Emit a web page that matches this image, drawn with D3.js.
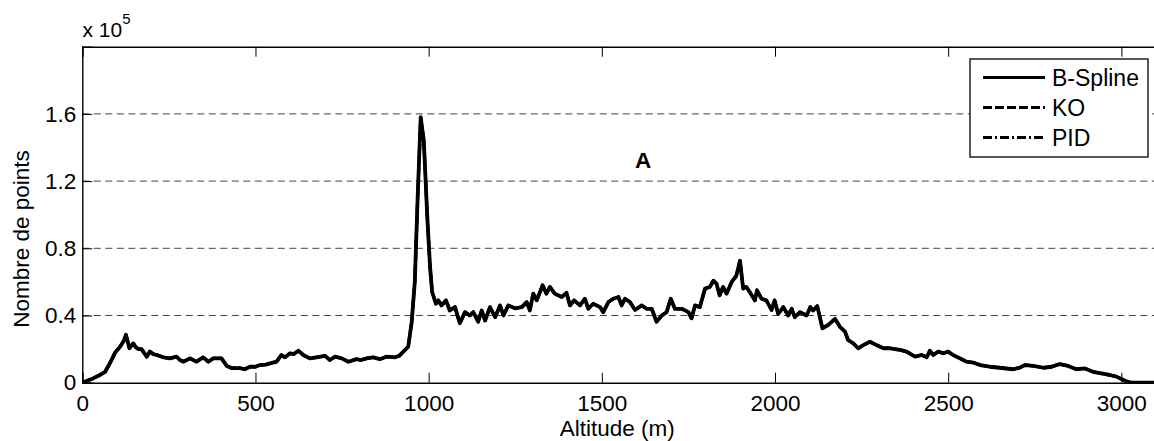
<!DOCTYPE html>
<html>
<head>
<meta charset="utf-8">
<script src="https://cdn.jsdelivr.net/npm/d3@7"></script>
<style>
  html, body { margin: 0; padding: 0; background: #fff; }
  svg { display: block; }
  text { font-family: "Liberation Sans", Arial, sans-serif; fill: #000; }
</style>
</head>
<body>
<svg id="chart" width="1154" height="441"></svg>
<script>
// ---------------- data ----------------
const altitude = [0,25,51,66,80,95,109,120,126,136,147,155,162,171,186,195,205,215,234,253,272,282,292,311,330,349,364,378,402,417,431,455,469,484,500,513,530,542,561,575,585,600,610,624,638,657,676,701,715,730,749,768,792,805,821,840,859,878,903,915,932,941,951,960,968,977,986,996,1004,1010,1021,1028,1037,1050,1061,1076,1090,1105,1119,1129,1143,1153,1163,1177,1192,1206,1216,1230,1249,1269,1283,1292,1302,1312,1329,1340,1350,1364,1384,1398,1408,1420,1437,1451,1461,1475,1495,1504,1519,1533,1548,1557,1567,1581,1596,1615,1629,1644,1658,1673,1687,1699,1711,1731,1750,1759,1769,1783,1798,1812,1822,1831,1840,1850,1860,1875,1888,1899,1908,1917,1927,1942,1948,1961,1975,1990,1999,2009,2024,2038,2048,2057,2072,2091,2102,2110,2122,2137,2154,2173,2187,2202,2211,2226,2240,2255,2274,2293,2313,2332,2361,2380,2404,2423,2438,2447,2457,2471,2486,2500,2514,2534,2553,2572,2592,2620,2649,2688,2707,2722,2746,2775,2799,2822,2846,2870,2895,2918,2942,2966,2986,3010,3024,3050,3100];
const bsplineValues = [0,2000,4600,6500,11700,18000,21400,25000,28500,20500,23400,21000,20000,20000,15500,18500,17000,16500,15100,14500,15500,13500,12500,14500,12500,15100,12500,14500,14500,10000,8700,8700,8000,9500,9500,10500,10800,11500,12500,16500,15100,17500,17000,19000,16500,14500,15100,16000,13500,15500,14500,12500,14000,13500,14500,15100,14000,15500,15100,16000,19500,21400,36000,60000,108700,158000,144000,99000,69000,54000,47000,49000,46000,49000,43000,45000,35400,42000,40000,42000,36300,43000,37000,45000,39000,46000,40000,46000,44300,45000,48000,43000,53000,49000,58000,53000,57000,53000,51000,53500,46000,49000,46000,50000,44000,47000,45000,42000,48000,50000,51000,46000,50000,48000,43300,46000,44000,44000,36300,40000,42000,50000,44000,44000,42000,38300,46000,45000,56000,57000,60700,59000,52000,57000,53000,60000,63500,72600,56000,57000,54000,49000,55000,50000,49000,43300,49000,41000,45000,40000,44000,39000,42000,40000,45000,43000,45600,32400,34400,38000,33400,30400,25400,23400,20500,22400,24400,22400,20500,20500,19500,18500,15500,16500,15100,19000,16500,18500,17500,18500,16500,14500,12500,12000,10500,9500,8900,8000,9000,10500,10000,8900,9500,11100,10000,8000,8500,6500,5500,4600,3600,1200,200,0,0];
// KO and PID overlap the B-Spline curve so closely that they cannot be told apart in the figure
const koValues = bsplineValues.slice();
const pidValues = bsplineValues.slice();

const seriesNames = ["B-Spline", "KO", "PID"];
const xTicks = [0, 500, 1000, 1500, 2000, 2500, 3000];
const yTicks = [0, 40000, 80000, 120000, 160000];
const yTickLabels = ["0", "0.4", "0.8", "1.2", "1.6"];
const xTitle = "Altitude (m)";
const yTitle = "Nombre de points";
const annotation = "A";

// ---------------- layout ----------------
const svg = d3.select("#chart");
const L = 82.3, R = 1156, T = 46.7, B = 382.7;
const x = d3.scaleLinear().domain([0, 3100]).range([L, R]);
const y = d3.scaleLinear().domain([0, 200000]).range([B, T]);

// grid lines
svg.append("g").selectAll("line")
  .data(yTicks.filter(d => d > 0))
  .join("line")
  .attr("x1", L).attr("x2", R)
  .attr("y1", d => y(d)).attr("y2", d => y(d))
  .attr("stroke", "#444").attr("stroke-width", 1)
  .attr("stroke-dasharray", "7,4.5");

// axes
const fontSize = 22.5;
const xAxis = svg.append("g").attr("transform", `translate(0,${B})`)
  .call(d3.axisBottom(x).tickValues(xTicks).tickSize(-10).tickPadding(14).tickFormat(d3.format("d")));
const xAxisTop = svg.append("g").attr("transform", `translate(0,${T})`)
  .call(d3.axisTop(x).tickValues(xTicks).tickSize(-10).tickFormat(""));
const yAxis = svg.append("g").attr("transform", `translate(${L},0)`)
  .call(d3.axisLeft(y).tickValues(yTicks).tickSize(-10).tickPadding(6).tickFormat((d, i) => yTickLabels[i]));

[xAxis, xAxisTop, yAxis].forEach(g => {
  g.select(".domain").attr("stroke", "#000").attr("stroke-width", 1.4);
  g.selectAll(".tick line").attr("stroke", "#000").attr("stroke-width", 1);
  g.selectAll("text").attr("font-size", fontSize).attr("font-family", "Liberation Sans, Arial, sans-serif").attr("fill", "#000");
});
xAxis.selectAll("text").attr("dy", "0.71em").attr("y", 12);
yAxis.selectAll("text").attr("dy", "0.32em");

// axis titles
svg.append("text").attr("x", (L + R) / 2 - 2).attr("y", 436)
  .attr("text-anchor", "middle").attr("font-size", fontSize).text(xTitle);
svg.append("text").attr("transform", "translate(29,239) rotate(-90)")
  .attr("text-anchor", "middle").attr("font-size", fontSize).text(yTitle);

// exponent label
const ex = svg.append("text").attr("x", 82.5).attr("y", 37).attr("font-size", 21);
ex.append("tspan").text("x 10");
ex.append("tspan").attr("dy", -13).attr("font-size", 15).text("5");

// annotation
svg.append("text").attr("x", 643).attr("y", 168).attr("text-anchor", "middle")
  .attr("font-size", fontSize).attr("font-weight", "bold").text(annotation);

// lines
const pts = vals => altitude.map((a, i) => [a, vals[i]]);
const line = d3.line().x(d => x(d[0])).y(d => y(d[1]));
const styles = [
  { name: seriesNames[0], vals: bsplineValues, dash: null, w: 3.8 },
  { name: seriesNames[1], vals: koValues, dash: "9,3", w: 3 },
  { name: seriesNames[2], vals: pidValues, dash: "9,3,2,3", w: 3 }
];
const plot = svg.append("g");
plot.append("clipPath").attr("id", "clip").append("rect")
  .attr("x", L).attr("y", T).attr("width", R - L).attr("height", B - T);
styles.forEach(s => {
  plot.append("path").datum(pts(s.vals))
    .attr("clip-path", "url(#clip)")
    .attr("d", line).attr("fill", "none").attr("stroke", "#000")
    .attr("stroke-width", s.w).attr("stroke-linejoin", "round")
    .attr("stroke-dasharray", s.dash);
});

// legend
const lg = svg.append("g");
lg.append("rect").attr("x", 970).attr("y", 59).attr("width", 178).attr("height", 98)
  .attr("fill", "#fff").attr("stroke", "#222").attr("stroke-width", 1.5);
styles.forEach((s, i) => {
  const cy = 77.5 + i * 30;
  lg.append("line").attr("x1", 983).attr("x2", 1045).attr("y1", cy).attr("y2", cy)
    .attr("stroke", "#000").attr("stroke-width", s.dash ? 2.8 : 3.2)
    .attr("stroke-dasharray", s.dash);
  lg.append("text").attr("x", 1052).attr("y", cy + 8.5).attr("font-size", 23).text(s.name);
});
</script>
</body>
</html>
